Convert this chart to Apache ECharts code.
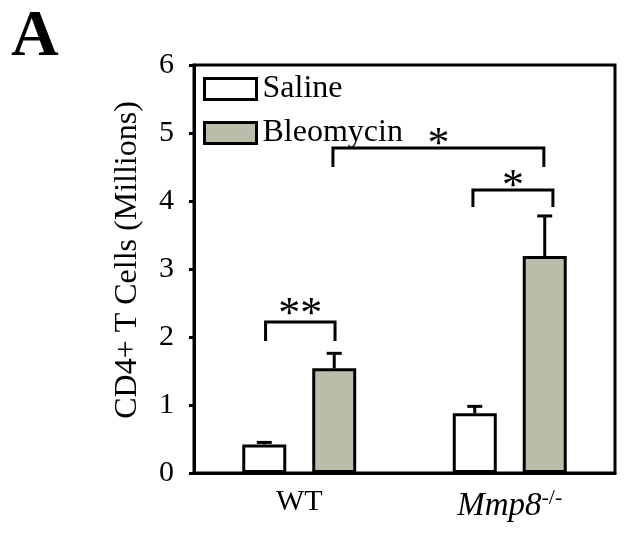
<!DOCTYPE html>
<html><head><meta charset="utf-8">
<script src="https://cdn.jsdelivr.net/npm/echarts@6/dist/echarts.min.js"></script>
<style>html,body{margin:0;padding:0;background:#fff}#c{width:630px;height:534px}</style>
</head><body><div id="c"></div>
<script>
const categories = ['WT', 'Mmp8'];
const seriesNames = ['Saline', 'Bleomycin'];
const salineValues = [0.42, 0.88];
const salineErrors = [0.03, 0.10];
const bleomycinValues = [1.54, 3.19];
const bleomycinErrors = [0.22, 0.59];
const yTicks = [0, 1, 2, 3, 4, 5, 6];
// significance brackets, x in category units (0 = WT centre, 1 = Mmp8 centre), y in data units
const bracketX1 = [-0.16, 0.825, 0.16];
const bracketX2 = [0.17, 1.205, 1.162];
const bracketY = [2.22, 4.16, 4.78];
const bracketLegY = [1.94, 3.91, 4.50];
const bracketLabelY = [2.47, 4.34, 4.97];
const bracketLabels = ['**', '*', '*'];

const FONT = '"Liberation Serif","Times New Roman",serif';
const BAR_W = 44, BAR_GAP = 0.59;
const barOffset = BAR_W * (1 + BAR_GAP) / 2;

function errRender(sign) {
  return function (params, api) {
    const c = api.value(0), v = api.value(1), e = api.value(2);
    const p0 = api.coord([c, v]);
    const p1 = api.coord([c, v + e]);
    const x = p0[0] + sign * barOffset;
    return {
      type: 'group', children: [
        { type: 'line', shape: { x1: x, y1: p0[1], x2: x, y2: p1[1] }, style: { stroke: '#000', lineWidth: 3 } },
        { type: 'line', shape: { x1: x - 7.5, y1: p1[1], x2: x + 7.5, y2: p1[1] }, style: { stroke: '#000', lineWidth: 3 } }
      ]
    };
  };
}

const bracketData = bracketX1.map((x1, i) => [x1, bracketX2[i], bracketY[i], bracketLegY[i], bracketLabelY[i], i]);

const chart = echarts.init(document.getElementById('c'), null, { renderer: 'canvas' });
chart.setOption({
  animation: false,
  backgroundColor: '#fff',
  title: {
    text: 'A', left: 11, top: 5, padding: 0,
    textStyle: { fontFamily: FONT, fontSize: 66, fontWeight: 'bold', color: '#000' }
  },
  grid: { left: 194, right: 15, top: 65, bottom: 61, show: true, borderColor: '#000', borderWidth: 3, containLabel: false },
  legend: {
    data: seriesNames, orient: 'vertical', left: 203, top: 73, padding: 0,
    icon: 'rect', itemWidth: 52, itemHeight: 21, itemGap: 12,
    textStyle: { fontFamily: FONT, fontSize: 32, color: '#000', padding: [0, 0, 0, 1] },
    itemStyle: { borderColor: '#000', borderWidth: 3 }
  },
  xAxis: [{
    type: 'category', data: categories,
    axisLine: { lineStyle: { color: '#000', width: 3 } },
    axisTick: { show: false },
    axisLabel: {
      interval: 0, margin: 14, color: '#000', fontFamily: FONT, fontSize: 30,
      formatter: v => v === 'Mmp8' ? '{i|Mmp8}{s|-/-}' : v,
      rich: {
        i: { fontFamily: FONT, fontSize: 33, fontStyle: 'italic', color: '#000', lineHeight: 36, verticalAlign: 'bottom' },
        s: { fontFamily: FONT, fontSize: 22, color: '#000', lineHeight: 20, verticalAlign: 'top' }
      }
    }
  }, {
    type: 'value', min: -0.5, max: 1.5, show: false
  }],
  yAxis: {
    type: 'value', min: yTicks[0], max: yTicks[yTicks.length - 1], interval: 1,
    name: 'CD4+ T Cells (Millions)', nameLocation: 'middle', nameGap: 50,
    nameTextStyle: { fontFamily: FONT, fontSize: 32, color: '#000', padding: [0, 0, 0, 18] },
    axisLine: { show: true, onZero: false, lineStyle: { color: '#000', width: 3 } },
    axisTick: { show: true, length: 5, lineStyle: { color: '#000', width: 3 } },
    axisLabel: { margin: 20, color: '#000', fontFamily: FONT, fontSize: 30 },
    splitLine: { show: false }
  },
  series: [
    {
      name: seriesNames[0], type: 'bar', data: salineValues, barWidth: BAR_W, barGap: (BAR_GAP * 100) + '%',
      itemStyle: { color: '#fff', borderColor: '#000', borderWidth: 3 }
    },
    {
      name: seriesNames[1], type: 'bar', data: bleomycinValues, barWidth: BAR_W,
      itemStyle: { color: '#bcbcaa', borderColor: '#000', borderWidth: 3 }
    },
    {
      type: 'custom', renderItem: errRender(-1), z: 1,
      data: salineValues.map((v, i) => [i, v, salineErrors[i]])
    },
    {
      type: 'custom', renderItem: errRender(1), z: 1,
      data: bleomycinValues.map((v, i) => [i, v, bleomycinErrors[i]])
    },
    {
      type: 'custom', xAxisIndex: 1, yAxisIndex: 0, z: 5,
      data: bracketData,
      renderItem: function (params, api) {
        const a = api.coord([api.value(0), api.value(2)]);
        const b = api.coord([api.value(1), api.value(2)]);
        const leg = api.coord([api.value(0), api.value(3)]);
        const lab = api.coord([api.value(0), api.value(4)]);
        const idx = api.value(5);
        const st = { stroke: '#000', lineWidth: 3, fill: null };
        return {
          type: 'group', children: [
            { type: 'polyline', shape: { points: [[a[0], leg[1]], [a[0], a[1]], [b[0], b[1]], [b[0], leg[1]]] }, style: st },
            { type: 'text', x: (a[0] + b[0]) / 2, y: lab[1] + 10, style: {
              text: bracketLabels[idx], fontFamily: FONT, fontSize: 44, fill: '#000',
              align: 'center', verticalAlign: 'middle' } }
          ]
        };
      }
    }
  ]
});
</script></body></html>
